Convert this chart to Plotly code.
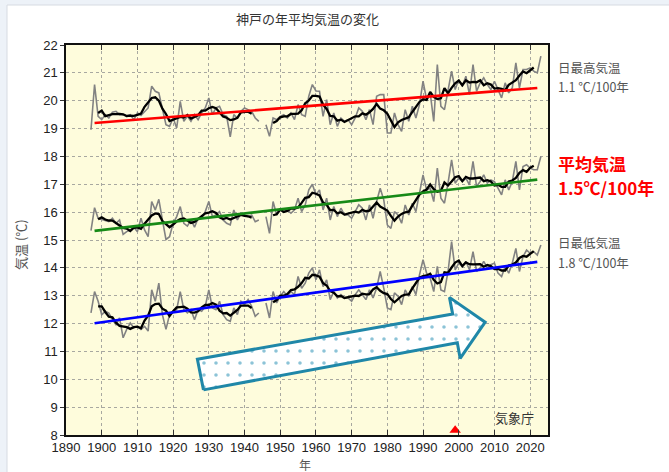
import numpy as np
import pandas as pd
import plotly.graph_objects as go

# ---------------- data ----------------
years = list(range(1897, 2024))

tmax = [18.96, 20.58, 19.44, 19.32, 19.5, 19.38, 19.59, 19.62, 19.5, 19.5,
        19.44, 19.5, 19.32, 19.56, 19.47, 19.62, 19.74, 20.52, 20.34, 20.28,
        19.74, 19.14, 19.08, 19.38, 19.02, 19.98, 19.26, 19.44, 19.26, 19.5,
        19.32, 19.56, 19.74, 20.1, 19.5, 19.74, 19.8, 19.5, 19.44, 18.7,
        19.5, 19.38, 19.62, 19.74, 19.68, 19.62, 19.38, 19.26, None, 19.14,
        18.72, 19.38, 19.32, 19.44, 19.5, 19.38, 19.56, 19.32, 19.86, 19.5,
        19.44, 20.16, 20.58, 20.35, 20.34, 19.44, 20.04, 19.14, 19.56, 19.08,
        19.38, 19.26, 19.32, 19.14, 19.38, 19.74, 19.62, 19.32, 19.68, 19.14,
        20.16, 20.22, 20.22, 18.84, 18.84, 19.56, 19.14, 18.9, 19.68, 19.26,
        19.8, 19.38, 19.86, 20.7, 20.04, 20.28, 19.26, 21.3, 19.8, 19.68,
        20.4, 21.06, 20.4, 20.76, 20.52, 20.88, 20.22, 21.3, 20.34, 20.64,
        20.82, 20.58, 20.4, 20.7, 20.4, 20.1, 20.64, 20.28, 20.46, 21.36,
        20.46, 21.12, 21.12, 21.18, 21.06, 21.0, 21.6]

tmean = [15.34, 16.16, 15.78, 15.74, 15.72, 15.66, 15.78, 15.6, 15.72, 15.2,
         15.3, 15.36, 15.46, 15.3, 15.78, 15.36, 15.12, 16.38, 16.08, 16.46,
         15.72, 15.02, 15.12, 15.6, 15.84, 16.2, 15.6, 15.5, 15.72, 15.46,
         15.78, 15.78, 16.02, 16.38, 15.84, 15.9, 16.02, 15.72, 15.6, 15.54,
         16.08, 15.72, 15.96, 15.9, 15.84, 15.9, 15.66, 15.72, None, 15.84,
         15.24, 16.38, 15.9, 16.08, 16.02, 16.08, 15.96, 16.08, 16.5, 16.02,
         16.26, 16.8, 17.0, 16.62, 16.8, 16.08, 16.5, 15.72, 16.2, 15.84,
         16.14, 15.9, 15.9, 15.78, 16.02, 16.26, 16.14, 15.72, 16.26, 15.78,
         16.38, 16.86, 16.44, 15.54, 15.42, 16.02, 15.9, 15.6, 16.26, 15.9,
         16.32, 16.02, 16.68, 17.34, 16.8, 16.86, 16.38, 17.58, 16.5, 16.32,
         17.04, 17.88, 17.04, 17.22, 17.1, 17.22, 16.98, 17.82, 16.92, 17.1,
         17.34, 17.04, 17.16, 17.1, 16.86, 16.62, 17.16, 16.8, 17.1, 17.82,
         16.8, 17.64, 17.7, 17.58, 17.52, 17.52, 18.0]

tmin = [12.38, 13.15, 12.8, 12.32, 12.44, 12.38, 12.14, 11.96, 12.2, 11.49,
        11.79, 12.02, 11.85, 11.9, 11.79, 11.9, 11.73, 13.21, 12.8, 13.45,
        12.32, 11.79, 12.32, 12.44, 12.5, 13.15, 12.5, 12.38, 12.5, 12.14,
        12.5, 12.44, 12.62, 13.21, 12.56, 12.5, 12.8, 12.32, 12.14, 12.08,
        12.56, 12.32, 12.8, 12.68, 12.86, 12.62, 12.26, 12.38, None, 12.74,
        12.2, 13.15, 12.74, 12.98, 13.15, 12.98, 13.15, 13.04, 13.69, 13.27,
        13.45, 13.81, 14.0, 13.57, 13.93, 13.33, 13.57, 12.86, 13.15, 12.92,
        13.04, 12.92, 12.92, 12.8, 13.04, 13.21, 13.04, 12.86, 13.21, 12.92,
        13.27, 13.87, 13.27, 12.56, 12.5, 13.1, 12.98, 12.68, 13.21, 12.98,
        13.33, 13.04, 13.75, 14.29, 13.81, 13.63, 13.15, 14.05, 13.21, 13.15,
        13.87, 14.94, 13.93, 14.17, 14.05, 14.23, 13.93, 14.58, 13.87, 14.0,
        14.23, 14.0, 14.11, 14.17, 13.81, 13.69, 14.05, 13.81, 14.17, 14.7,
        13.87, 14.4, 14.64, 14.52, 14.58, 14.46, 14.82]

trend_years = [1898, 2022]
relocation_years = [1999]

x_ticks = list(range(1890, 2021, 10))
y_ticks = list(range(8, 23))

labels_right = [
    ("日最高気温", "1.1 ℃/100年"),
    ("平均気温", "1.5℃/100年"),
    ("日最低気温", "1.8 ℃/100年"),
]

# ---------------- geometry helpers (pixel -> paper) ----------------
W, H = 669, 472
PL, PR, PT, PB = 66, 548, 45, 435


def px(xp):
    return (xp - PL) / (PR - PL)


def py(yp):
    return (PB - yp) / (PB - PT)


fig = go.Figure()

series = [(tmax, "#ff0000"), (tmean, "#178a17"), (tmin, "#0000ff")]

for vals, tcol in series:
    s = pd.Series([np.nan if v is None else v for v in vals], index=years, dtype=float)
    rm = s.rolling(5, center=True).mean()
    valid = s.dropna()
    coef = np.polyfit(valid.index.values, valid.values, 1)
    tr = np.polyval(coef, np.array(trend_years))
    fig.add_trace(go.Scatter(x=years, y=s.values, mode="lines",
                             line=dict(color="#828282", width=1.6),
                             connectgaps=False, hoverinfo="skip", showlegend=False))
    fig.add_trace(go.Scatter(x=years, y=rm.values, mode="lines",
                             line=dict(color="#000000", width=2.3),
                             connectgaps=False, hoverinfo="skip", showlegend=False))
    fig.add_trace(go.Scatter(x=trend_years, y=tr, mode="lines",
                             line=dict(color=tcol, width=2.6),
                             hoverinfo="skip", showlegend=False))

# decorative arrow (data coords)
arrow_x = [1928.5, 1926.8, 1998.3, 1997.4, 2007.4, 2000.4, 1999.6, 1928.5]
arrow_y = [9.62, 10.72, 12.34, 12.94, 12.05, 10.75, 11.31, 9.62]
fig.add_trace(go.Scatter(
    x=arrow_x, y=arrow_y, mode="lines", fill="toself",
    fillcolor="white",
    fillpattern=dict(shape=".", fgcolor="#1a88b0", bgcolor="white", size=12, solidity=0.07),
    line=dict(color="#1f87a8", width=3), hoverinfo="skip", showlegend=False))

# relocation marker
fig.add_trace(go.Scatter(x=relocation_years, y=[8.17], mode="markers",
                         marker=dict(symbol="triangle-up", size=10, color="#ff0000"),
                         cliponaxis=False, hoverinfo="skip", showlegend=False))

shapes = [
    dict(type="rect", xref="paper", yref="paper", layer="below",
         x0=px(7), x1=px(700), y0=py(500), y1=py(5),
         fillcolor="white", line=dict(color="#d6dbe2", width=1)),
    dict(type="rect", xref="paper", yref="paper", layer="below",
         x0=0, x1=1, y0=0, y1=1, fillcolor="#fefcdc", line=dict(width=0)),
]

annotations = [
    dict(text="神戸の年平均気温の変化", xref="paper", yref="paper", x=0.5, y=py(18),
         showarrow=False, xanchor="center", yanchor="middle",
         font=dict(family="Noto Sans CJK JP", size=13, color="#333333")),
    dict(text="気温 (℃)", xref="paper", yref="paper", x=px(21), y=py(245),
         showarrow=False, textangle=-90, xanchor="center", yanchor="middle",
         font=dict(family="Noto Sans CJK JP", size=13, color="#555555")),
    dict(text="年", xref="paper", yref="paper", x=px(305), y=py(464),
         showarrow=False, xanchor="center", yanchor="middle",
         font=dict(family="Noto Sans CJK JP", size=12, color="#555555")),
    dict(text="気象庁", xref="paper", yref="paper", x=px(536), y=py(417),
         showarrow=False, xanchor="right", yanchor="middle",
         font=dict(family="Noto Sans CJK JP", size=13, color="#333333")),
]

small_font = dict(family="Noto Sans CJK JP", size=12.5, color="#555555")
big_font = dict(family="Noto Sans CJK JP", size=17, color="#ff0000")
ypos = [(67.5, 87), (163.5, 187.5), (242.5, 262)]
for i, ((a, b), (y1, y2)) in enumerate(zip(labels_right, ypos)):
    f = big_font if i == 1 else small_font
    ta, tb = (f"<b>{a}</b>", f"<b>{b}</b>") if i == 1 else (a, b)
    annotations.append(dict(text=ta, xref="paper", yref="paper", x=px(556), y=py(y1),
                            showarrow=False, xanchor="left", yanchor="middle", font=f))
    annotations.append(dict(text=tb, xref="paper", yref="paper", x=px(556), y=py(y2),
                            showarrow=False, xanchor="left", yanchor="middle", font=f))

fig.update_layout(
    width=W, height=H,
    margin=dict(l=PL, r=W - PR, t=PT, b=H - PB, pad=0),
    paper_bgcolor="#edf2f8",
    plot_bgcolor="#fefcdc",
    shapes=shapes,
    annotations=annotations,
    showlegend=False,
    font=dict(family="Liberation Sans, Arial, sans-serif", size=13, color="#222222"),
)

fig.update_xaxes(range=[1890, 2025], tickmode="array", tickvals=x_ticks,
                 ticktext=[str(t) for t in x_ticks],
                 showgrid=True, gridcolor="#a8a8a0", griddash="dot", gridwidth=1,
                 showline=True, linecolor="#111111", linewidth=1.5, mirror="ticks",
                 ticks="inside", ticklen=5, tickcolor="#333333",
                 zeroline=False, fixedrange=True,
                 tickfont=dict(family="Liberation Sans, Arial", size=13, color="#222222"))
fig.update_yaxes(range=[8, 22], tickmode="array", tickvals=y_ticks,
                 ticktext=[str(t) for t in y_ticks],
                 showgrid=True, gridcolor="#a8a8a0", griddash="dot", gridwidth=1,
                 showline=True, linecolor="#111111", linewidth=1.5, mirror=True,
                 ticks="outside", ticklen=4, tickcolor="#333333",
                 zeroline=False, fixedrange=True,
                 tickfont=dict(family="Liberation Sans, Arial", size=13, color="#222222"))

fig.write_html("out.html", config={"displayModeBar": False},
               post_script="document.body.style.margin='0';document.body.style.overflow='hidden';")
